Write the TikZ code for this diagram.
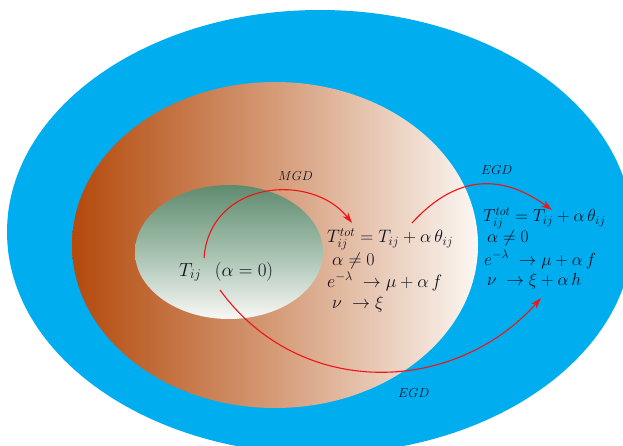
\documentclass[tikz,border=0pt]{standalone}
\usepackage{fix-cm}
\usetikzlibrary{arrows.meta}
\definecolor{outerblue}{RGB}{0,174,239}
\definecolor{brownL}{RGB}{180,74,12}
\definecolor{brownM}{RGB}{213,155,120}
\definecolor{brownR}{RGB}{251,247,243}
\definecolor{greenT}{RGB}{94,139,110}
\definecolor{greenM}{RGB}{165,192,175}
\definecolor{greenB}{RGB}{248,248,245}
\definecolor{arrowred}{RGB}{240,20,20}
\definecolor{inktext}{RGB}{15,15,30}
\tikzset{
  eq/.style={anchor=base west, inner sep=0pt, text=inktext, font=\fontsize{18}{20}\selectfont},
  eqr/.style={eq, font=\fontsize{17.5}{19}\selectfont},
  eqc/.style={eq, font=\fontsize{19}{21}\selectfont},
  lbl/.style={anchor=base west, inner sep=0pt, text=inktext, font=\fontsize{13}{15}\selectfont},
  flow/.style={draw=arrowred, line width=1.1pt, -{Stealth[length=11pt,width=7pt]}}
}
\begin{document}
\begin{tikzpicture}[x=1pt,y=-1pt]
\useasboundingbox (0,0) rectangle (623,446);
\clip (0,0) rectangle (623,446);
% regions
\fill[outerblue] (320,232) ellipse [x radius=313pt, y radius=222pt];
\shade[left color=brownL, right color=brownR, middle color=brownM] (275,245) ellipse [x radius=203pt, y radius=163pt];
\shade[top color=greenT, bottom color=greenB, middle color=greenM] (229,252) ellipse [x radius=94pt, y radius=67pt];
% texts
\node[eqc] (tij) at (179,276) {$T_{ij}\;\;\,(\alpha = 0)$};
\node[lbl] (mgd) at (278,181) {$MGD$};
\node[eq] (m1) at (327,243) {$T_{ij}^{tot} = T_{ij} + \alpha\,\theta_{ij}$};
\node[eq] (m2) at (332,265) {$\alpha \neq 0$};
\node[eq] (m3) at (327,287) {$e^{-\lambda}\;\to \mu + \alpha\, f$};
\node[eq] (m4) at (332,308) {$\nu\;\to \xi$};
\node[lbl] (egdt) at (481,175) {$EGD$};
\node[eqr] (r1) at (483,222) {$T_{ij}^{tot} = T_{ij} + \alpha\,\theta_{ij}$};
\node[eqr] (r2) at (487,243) {$\alpha \neq 0$};
\node[eqr] (r3) at (484,265) {$e^{-\lambda}\;\to \mu + \alpha\, f$};
\node[eqr] (r4) at (487,285) {$\nu\;\to \xi + \alpha\, h$};
\node[lbl] (egdb) at (398,397) {$EGD$};
% arrow ends
\coordinate (mgdS) at (204,258);
\coordinate (mgdE) at (352,223);
\coordinate (egtS) at (412,223);
\coordinate (egtE) at (552,210);
\coordinate (egbS) at (220,290);
\coordinate (egbE) at (541,298);
\draw[flow] (mgdS) .. controls (210,180) and (312,172) .. (mgdE);
\draw[flow] (egtS) .. controls (452,179) and (497,170) .. (egtE);
\draw[flow] (egbS) .. controls (300,400) and (455,395) .. (egbE);
\end{tikzpicture}
\end{document}
